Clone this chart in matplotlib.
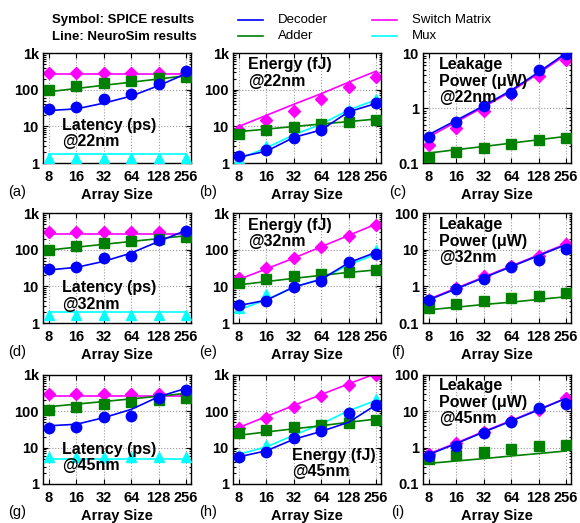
import matplotlib
matplotlib.use("Agg")
import matplotlib.pyplot as plt
from matplotlib.lines import Line2D
from matplotlib.ticker import LogLocator, NullFormatter

plt.rcParams["font.family"] = ["Liberation Sans", "DejaVu Sans"]

sizes = ["8", "16", "32", "64", "128", "256"]

# symbols = SPICE, *_ns = NeuroSim line
# (a) latency ps @22nm
lat22_dec = [30, 34, 56, 78, 143, 320]
lat22_dec_ns = [27, 30, 43, 67, 129, 273]
lat22_add = [100, 125, 155, 178, 205, 225]
lat22_add_ns = [88, 108, 132, 160, 196, 240]
lat22_sw = [290, 290, 290, 290, 290, 290]
lat22_sw_ns = [275, 275, 275, 275, 275, 275]
lat22_mux = [1.4, 1.4, 1.4, 1.4, 1.4, 1.4]
lat22_mux_ns = [1.75, 1.75, 1.75, 1.75, 1.75, 1.75]

# (b) energy fJ @22nm
en22_dec = [1.55, 2.2, 4.8, 8.0, 25, 43]
en22_dec_ns = [1.45, 2.1, 5.0, 8.0, 25, 42]
en22_add = [6.0, 7.8, 9.6, 11.3, 12.9, 14.5]
en22_add_ns = [7.2, 8.4, 9.9, 11.6, 13.5, 15.8]
en22_sw = [7.8, 14.6, 27, 57, 116, 225]
en22_sw_ns = [10, 20, 40, 78, 160, 320]
en22_mux = [1.25, 3.0, 5.8, 10.6, 28, 55]
en22_mux_ns = [1.3, 2.6, 5.9, 11.5, 28, 53]

# (c) leakage uW @22nm
lk22_dec = [0.30, 0.56, 1.08, 1.85, 4.9, 9.5]
lk22_dec_ns = [0.33, 0.6, 1.1, 2.1, 4.5, 10]
lk22_add = [0.128, 0.156, 0.187, 0.225, 0.262, 0.29]
lk22_add_ns = [0.152, 0.175, 0.2, 0.23, 0.265, 0.305]
lk22_sw = [0.215, 0.43, 0.87, 1.8, 3.9, 7.6]
lk22_sw_ns = [0.3, 0.56, 1.05, 2.0, 4.3, 9.3]

# (d) latency ps @32nm
lat32_dec = [30, 33, 59, 66, 188, 316]
lat32_dec_ns = [28, 33, 48, 81, 168, 336]
lat32_add = [100, 123, 150, 169, 195, 221]
lat32_add_ns = [98, 117, 140, 168, 200, 240]
lat32_sw = [296, 296, 296, 296, 296, 296]
lat32_sw_ns = [273, 273, 273, 273, 273, 273]
lat32_mux = [1.7, 1.7, 1.7, 1.7, 1.7, 1.7]
lat32_mux_ns = [1.95, 1.95, 1.95, 1.95, 1.95, 1.95]

# (e) energy fJ @32nm
en32_dec = [3.05, 4.1, 9.4, 14.3, 45, 76]
en32_dec_ns = [3.0, 4.2, 9.6, 15.5, 44, 85]
en32_add = [12.3, 15.8, 19.5, 22, 25, 27.5]
en32_add_ns = [11, 13.5, 16.5, 20, 24, 28]
en32_sw = [16.5, 31, 58, 116, 240, 480]
en32_sw_ns = [15.5, 30, 59, 120, 245, 500]
en32_mux = [2.6, 6.0, 11, 17, 43, 100]
en32_mux_ns = [2.3, 4.3, 9.5, 16, 39, 75]

# (f) leakage uW @32nm
lk32_dec = [0.42, 0.85, 1.58, 3.4, 5.3, 10.4]
lk32_dec_ns = [0.43, 0.86, 1.72, 3.44, 6.9, 13.7]
lk32_add = [0.25, 0.34, 0.41, 0.49, 0.56, 0.66]
lk32_add_ns = [0.23, 0.27, 0.32, 0.37, 0.44, 0.52]
lk32_sw = [0.43, 0.88, 1.87, 3.5, 6.9, 14.3]
lk32_sw_ns = [0.45, 0.9, 1.8, 3.6, 7.2, 14.5]

# (g) latency ps @45nm
lat45_dec = [34, 37, 71, 76, 238, 386]
lat45_dec_ns = [40, 44, 67, 113, 252, 430]
lat45_add = [112, 130, 159, 184, 210, 228]
lat45_add_ns = [134, 158, 186, 220, 260, 313]
lat45_sw = [294, 294, 294, 294, 294, 294]
lat45_sw_ns = [270, 270, 270, 270, 270, 270]
lat45_mux = [5.4, 5.4, 5.4, 5.4, 5.4, 5.4]
lat45_mux_ns = [4.9, 4.9, 4.9, 4.9, 4.9, 4.9]

# (h) energy fJ @45nm
en45_dec = [5.6, 7.8, 19, 29, 88, 149]
en45_dec_ns = [5.6, 8.2, 17, 28, 50, 150]
en45_add = [26, 31, 36, 42, 49, 57]
en45_add_ns = [22, 27, 33, 40, 50, 61]
en45_sw = [34, 67, 134, 264, 530, 1000]
en45_sw_ns = [36, 72, 145, 290, 570, 1100]
en45_mux = [6.3, 11.8, 23, 45, 98, 225]
en45_mux_ns = [6.6, 10.5, 22, 45, 104, 200]

# (i) leakage uW @45nm
lk45_dec = [0.6, 1.13, 2.6, 5.2, 12.1, 16.2]
lk45_dec_ns = [0.65, 1.3, 2.7, 5.4, 11, 22.8]
lk45_add = [0.49, 0.63, 0.78, 0.92, 1.09, 1.18]
lk45_add_ns = [0.37, 0.43, 0.5, 0.59, 0.69, 0.81]
lk45_sw = [0.69, 1.32, 2.75, 5.4, 11, 22.8]
lk45_sw_ns = [0.68, 1.35, 2.8, 5.6, 11.3, 23]

C_DEC = "#0000ff"
C_ADD = "#008000"
C_SW = "#ff00ff"
C_MUX = "#00ffff"

lat_ticks = ([1, 10, 100, 1000], ["1", "10", "100", "1k"])
lk_ticks2 = ([0.1, 1, 10], ["0.1", "1", "10"])
lk_ticks3 = ([0.1, 1, 10, 100], ["0.1", "1", "10", "100"])

fig = plt.figure(figsize=(5.8, 5.23), dpi=100)

row_bottom = [0.6883, 0.3824, 0.0746]
row_h = [0.2103, 0.2103, 0.2084]
col_left = [0.0741, 0.4017, 0.7293]
col_w = 0.2552
tag_x = [0.029, 0.359, 0.686]
tag_y = [0.633, 0.327, 0.021]


def draw_panel(r, c, series, ylim, ticks, note, note_xy, tag):
    ax = fig.add_axes([col_left[c], row_bottom[r], col_w, row_h[r]])
    x = list(range(len(sizes)))
    for sym, line, color, marker, ms, z in series:
        ax.plot(x, line, color=color, lw=1.2, zorder=z)
        ax.plot(x, sym, ls="none", marker=marker, color=color, ms=ms,
                mec=color, zorder=z + 0.5)
    ax.set_yscale("log")
    ax.set_ylim(*ylim)
    ax.set_xlim(-0.22, 5.18)
    ax.set_yticks(ticks[0], ticks[1], fontweight="bold", fontsize=10.5)
    ax.yaxis.set_minor_locator(LogLocator(base=10, subs=range(2, 10)))
    ax.yaxis.set_minor_formatter(NullFormatter())
    ax.set_xticks(x, sizes, fontweight="bold", fontsize=10.5)
    ax.set_xlabel("Array Size", fontweight="bold", fontsize=10.5, labelpad=3)
    ax.tick_params(which="both", direction="in", top=True, right=True, width=0.8)
    ax.tick_params(which="major", length=3.5, pad=3)
    ax.tick_params(axis="x", which="major", pad=5)
    ax.tick_params(which="minor", length=1.8)
    ax.grid(True, which="major", ls=":", color="#999999", lw=0.8)
    for s in ax.spines.values():
        s.set_linewidth(1.0)
    ax.text(note_xy[0], note_xy[1], note, transform=ax.transAxes, ha="left", va="top",
            fontweight="bold", fontsize=11.5, linespacing=1.12, zorder=10)
    fig.text(tag_x[c], tag_y[r], tag, ha="center", va="center", fontsize=10.5)
    return ax


def lat_series(dec, dec_ns, add, add_ns, sw, sw_ns, mux, mux_ns):
    return [(sw, sw_ns, C_SW, "D", 6.5, 2), (mux, mux_ns, C_MUX, "^", 7.5, 3),
            (add, add_ns, C_ADD, "s", 7.5, 4), (dec, dec_ns, C_DEC, "o", 7.5, 5)]


def lk_series(dec, dec_ns, add, add_ns, sw, sw_ns):
    return [(sw, sw_ns, C_SW, "D", 6.5, 2), (add, add_ns, C_ADD, "s", 7.5, 4),
            (dec, dec_ns, C_DEC, "o", 7.5, 5)]


draw_panel(0, 0, lat_series(lat22_dec, lat22_dec_ns, lat22_add, lat22_add_ns,
                            lat22_sw, lat22_sw_ns, lat22_mux, lat22_mux_ns),
           (1, 1000), lat_ticks, "Latency (ps)\n@22nm", (0.13, 0.41), "(a)")
draw_panel(0, 1, lat_series(en22_dec, en22_dec_ns, en22_add, en22_add_ns,
                            en22_sw, en22_sw_ns, en22_mux, en22_mux_ns),
           (1, 1000), lat_ticks, "Energy (fJ)\n@22nm", (0.10, 0.96), "(b)")
draw_panel(0, 2, lk_series(lk22_dec, lk22_dec_ns, lk22_add, lk22_add_ns,
                           lk22_sw, lk22_sw_ns),
           (0.1, 10), lk_ticks2, "Leakage\nPower (\u03bcW)\n@22nm", (0.11, 0.96), "(c)")

draw_panel(1, 0, lat_series(lat32_dec, lat32_dec_ns, lat32_add, lat32_add_ns,
                            lat32_sw, lat32_sw_ns, lat32_mux, lat32_mux_ns),
           (1, 1000), lat_ticks, "Latency (ps)\n@32nm", (0.13, 0.39), "(d)")
draw_panel(1, 1, lat_series(en32_dec, en32_dec_ns, en32_add, en32_add_ns,
                            en32_sw, en32_sw_ns, en32_mux, en32_mux_ns),
           (1, 1000), lat_ticks, "Energy (fJ)\n@32nm", (0.10, 0.955), "(e)")
draw_panel(1, 2, lk_series(lk32_dec, lk32_dec_ns, lk32_add, lk32_add_ns,
                           lk32_sw, lk32_sw_ns),
           (0.1, 100), lk_ticks3, "Leakage\nPower (\u03bcW)\n@32nm", (0.11, 0.96), "(f)")

draw_panel(2, 0, lat_series(lat45_dec, lat45_dec_ns, lat45_add, lat45_add_ns,
                            lat45_sw, lat45_sw_ns, lat45_mux, lat45_mux_ns),
           (1, 1000), lat_ticks, "Latency (ps)\n@45nm", (0.13, 0.385), "(g)")
draw_panel(2, 1, lat_series(en45_dec, en45_dec_ns, en45_add, en45_add_ns,
                            en45_sw, en45_sw_ns, en45_mux, en45_mux_ns),
           (1, 1000), lat_ticks, "Energy (fJ)\n@45nm", (0.40, 0.33), "(h)")
draw_panel(2, 2, lk_series(lk45_dec, lk45_dec_ns, lk45_add, lk45_add_ns,
                           lk45_sw, lk45_sw_ns),
           (0.1, 100), lk_ticks3, "Leakage\nPower (\u03bcW)\n@45nm", (0.11, 0.97), "(i)")

# header legend
fig.text(0.0897, 0.9618, "Symbol: SPICE results", fontweight="bold", fontsize=9.5,
         ha="left", va="center")
fig.text(0.0897, 0.929, "Line: NeuroSim results", fontweight="bold", fontsize=9.5,
         ha="left", va="center")
legend_items = [("Decoder", C_DEC, 0.410, 0.9618), ("Adder", C_ADD, 0.410, 0.931),
                ("Switch Matrix", C_SW, 0.641, 0.9618), ("Mux", C_MUX, 0.641, 0.931)]
for name, color, lx, ly in legend_items:
    fig.add_artist(Line2D([lx, lx + 0.043], [ly, ly], color=color, lw=1.2,
                          transform=fig.transFigure))
    fig.text(lx + 0.069, ly, name, fontsize=9.5, ha="left", va="center")

fig.savefig("out.png", dpi=100)
